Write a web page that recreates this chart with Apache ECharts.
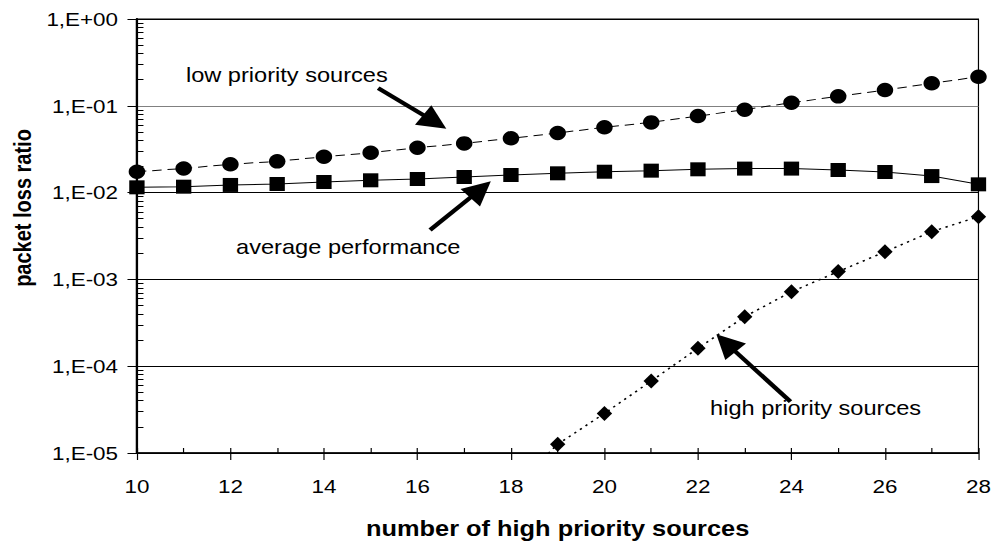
<!DOCTYPE html>
<html>
<head>
<meta charset="utf-8">
<script src="https://cdn.jsdelivr.net/npm/echarts@6/dist/echarts.min.js"></script>
<style>
html,body{margin:0;padding:0;background:#fff;overflow:hidden;}
#wrap{width:995px;height:545px;overflow:hidden;}
#c{width:843px;height:545px;transform:scaleX(1.1803);transform-origin:0 0;}
</style>
</head>
<body>
<div id="wrap"><div id="c"></div></div>
<script>
// ---- data ----
const xValues = [10,11,12,13,14,15,16,17,18,19,20,21,22,23,24,25,26,27,28];
const lowPriority = [0.0174,0.0190,0.0212,0.0229,0.0259,0.0288,0.0329,0.0369,0.0422,0.0486,0.0565,0.0644,0.0762,0.0902,0.1086,0.1285,0.152,0.1815,0.216];
const averagePerf = [0.0115,0.0117,0.01225,0.01257,0.01325,0.01386,0.01435,0.01513,0.01595,0.01668,0.0174,0.0179,0.01855,0.0189,0.0189,0.0182,0.01727,0.0155,0.01245];
const highX = [18,19,20,21,22,23,24,25,26,27,28];
const highPriority = [3.8e-6,1.26e-5,2.86e-5,6.75e-5,1.61e-4,3.72e-4,7.2e-4,1.23e-3,2.08e-3,3.55e-3,5.28e-3];
const yTickLabels = ['1,E-05','1,E-04','1,E-03','1,E-02','1,E-01','1,E+00'];
const xTickLabels = ['10','12','14','16','18','20','22','24','26','28'];
const annotations = ['low priority sources','average performance','high priority sources'];
const xTitle = 'number of high priority sources';
const yTitle = 'packet loss ratio';

const FONT = 'Liberation Sans';
const chart = echarts.init(document.getElementById('c'), null, {renderer: 'svg'});

function arrow(from, to) {
  return [{coord: from}, {coord: to}];
}
// short inside minor ticks of the log axis (2..9 in each decade), drawn in axis space
const tickLine = {color: '#000', width: 1, type: 'solid'};
const minorTickLines = [];
for (let e = -5; e < 0; e++) {
  for (let k = 2; k <= 9; k++) {
    const v = k * Math.pow(10, e);
    minorTickLines.push([
      {coord: [10, v], symbol: 'none', lineStyle: tickLine},
      {coord: [10.14, v], symbol: 'none', lineStyle: tickLine}
    ]);
  }
}
const arrowStyle = {
  silent: true, symbol: ['none', 'triangle'], symbolSize: 24, label: {show: false},
  lineStyle: {color: '#000', width: 4, type: 'solid'}, emphasis: {disabled: true}
};

const option = {
  backgroundColor: '#fff',
  animation: false,
  grid: {left: 116, right: 14, top: 19, bottom: 92, show: true, borderColor: '#000', borderWidth: 1, backgroundColor: 'transparent'},
  xAxis: [{
    type: 'value', min: 10, max: 28, interval: 2,
    axisLine: {show: true, onZero: false, lineStyle: {color: '#000', width: 1.5}},
    axisTick: {show: true, inside: false, length: 7, lineStyle: {color: '#000'}},
    axisLabel: {margin: 24, color: '#000', fontFamily: FONT, fontSize: 19,
      formatter: v => xTickLabels[xTickLabels.indexOf(String(v))] || ''},
    splitLine: {show: false},
    name: xTitle, nameLocation: 'middle', nameGap: 65,
    nameTextStyle: {fontFamily: FONT, fontSize: 21.5, fontWeight: 'bold', color: '#000'}
  }, {
    type: 'value', min: 10, max: 28, interval: 1, position: 'bottom',
    axisLine: {show: false},
    axisTick: {show: true, inside: true, length: 5, lineStyle: {color: '#000'}},
    axisLabel: {show: false}, splitLine: {show: false}
  }],
  yAxis: [{
    type: 'log', min: 1e-5, max: 1, logBase: 10,
    axisLine: {show: true, lineStyle: {color: '#000', width: 2}},
    axisTick: {show: true, inside: false, length: 8, lineStyle: {color: '#000'}},
    axisLabel: {margin: 16, color: '#000', fontFamily: FONT, fontSize: 19,
      formatter: v => yTickLabels[Math.round(Math.log10(v)) + 5]},
    splitLine: {show: true, lineStyle: {color: ['#000','#000','#000','#000','#808080','#000'], width: 1}}
  }],
  graphic: [
    {type: 'text', x: 19, y: 208, rotation: Math.PI / 2,
     style: {text: yTitle, fontFamily: FONT, fontSize: 20, fontWeight: 'bold', fill: '#000', align: 'center', verticalAlign: 'middle'}},
    {type: 'text', x: 243, y: 75,
     style: {text: annotations[0], fontFamily: FONT, fontSize: 20, fill: '#000', align: 'center', verticalAlign: 'middle'}},
    {type: 'text', x: 295, y: 247,
     style: {text: annotations[1], fontFamily: FONT, fontSize: 20, fill: '#000', align: 'center', verticalAlign: 'middle'}},
    {type: 'text', x: 691, y: 408,
     style: {text: annotations[2], fontFamily: FONT, fontSize: 20, fill: '#000', align: 'center', verticalAlign: 'middle'}}
  ],
  series: [
    {
      type: 'line', name: annotations[0], data: xValues.map((x, i) => [x, lowPriority[i]]),
      symbol: 'circle', symbolSize: [14, 14.5], itemStyle: {color: '#000'},
      lineStyle: {color: '#000', width: 1, type: [8, 5]}, silent: true,
      markLine: Object.assign({}, arrowStyle, {data: [arrow([15.16, 0.160], [16.37, 0.0652])].concat(minorTickLines)})
    },
    {
      type: 'line', name: annotations[1], data: xValues.map((x, i) => [x, averagePerf[i]]),
      symbol: 'rect', symbolSize: [13, 14], itemStyle: {color: '#000'},
      lineStyle: {color: '#000', width: 1, type: 'solid'}, silent: true,
      markLine: Object.assign({}, arrowStyle, {data: [arrow([16.27, 0.00371], [17.35, 0.01088])]})
    },
    {
      type: 'line', name: annotations[2], data: highX.map((x, i) => [x, highPriority[i]]),
      symbol: 'diamond', symbolSize: [13, 15], itemStyle: {color: '#000'},
      lineStyle: {color: '#000', width: 1.5, type: [2, 4]}, silent: true,
      markLine: Object.assign({}, arrowStyle, {data: [arrow([23.98, 3.9e-5], [22.60, 1.85e-4])]})
    }
  ]
};
chart.setOption(option);
</script>
</body>
</html>
